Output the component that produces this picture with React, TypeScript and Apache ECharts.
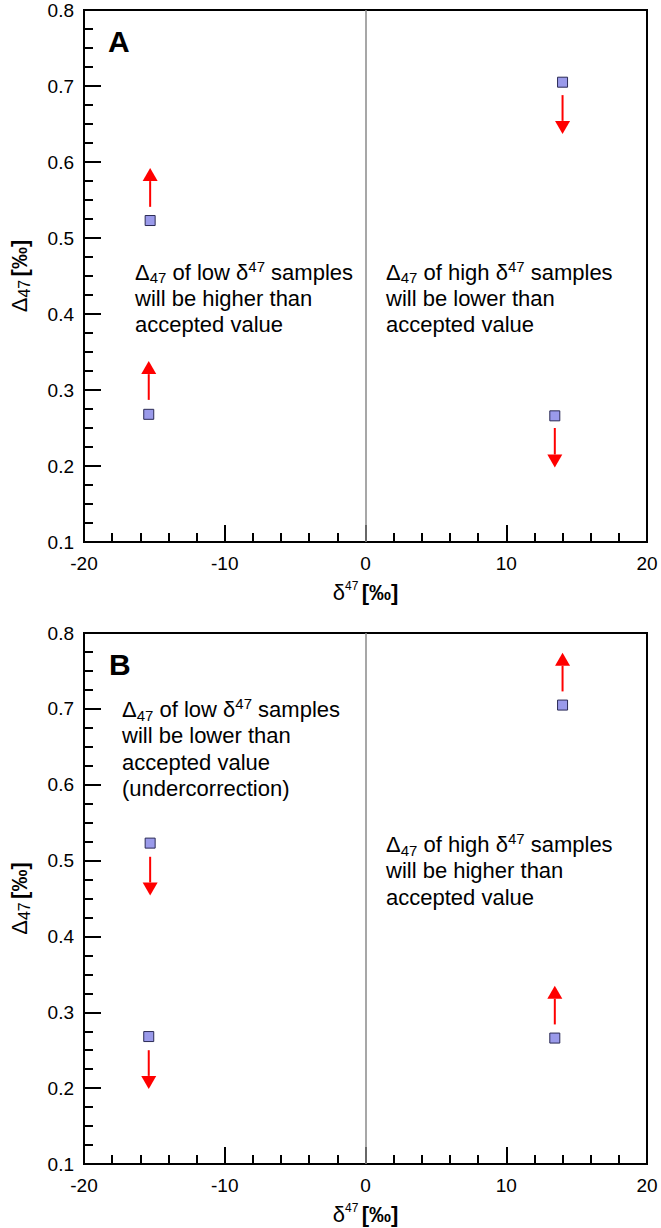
import React, { useEffect, useRef } from "react";
import * as echarts from "echarts";

// ---- data ----
const sampleX = [-15.3, -15.4, 14.0, 13.45];
const sampleY = [0.523, 0.268, 0.705, 0.266];
// arrow start / tip values (Δ47) for panel A and panel B
const arrowStartA = [0.541, 0.287, 0.688, 0.25];
const arrowTipA = [0.592, 0.338, 0.637, 0.198];
const arrowStartB = [0.505, 0.25, 0.723, 0.284];
const arrowTipB = [0.454, 0.199, 0.774, 0.335];
const zeroLineX = [0];

const FONT = "'Liberation Sans', Arial, sans-serif";

const labelA = "A";
const labelB = "B";
const textALeft = [
  "{n|Δ}{sub|47}{n| of low }{n|δ}{sup|47}{n| samples}",
  "{n|will be higher than}",
  "{n|accepted value}",
];
const textARight = [
  "{n|Δ}{sub|47}{n| of high }{n|δ}{sup|47}{n| samples}",
  "{n|will be lower than}",
  "{n|accepted value}",
];
const textBLeft = [
  "{n|Δ}{sub|47}{n| of low }{n|δ}{sup|47}{n| samples}",
  "{n|will be lower than}",
  "{n|accepted value}",
  "{n|(undercorrection)}",
];
const textBRight = [
  "{n|Δ}{sub|47}{n| of high }{n|δ}{sup|47}{n| samples}",
  "{n|will be higher than}",
  "{n|accepted value}",
];

function makeRich(lh: number) {
  return {
    n: { fontSize: 22, lineHeight: lh, fontFamily: FONT, fill: "#000" },
    sub: { fontSize: 15, lineHeight: 14, verticalAlign: "bottom", fontFamily: FONT, fill: "#000" },
    sup: { fontSize: 15, lineHeight: 14, verticalAlign: "top", fontFamily: FONT, fill: "#000" },
  };
}

function annot(lines: string[], x: number, y: number, lh: number) {
  return {
    type: "text",
    left: x,
    top: y,
    style: {
      text: lines.join("\n"),
      rich: makeRich(lh),
      fill: "#000",
      font: `22px ${FONT}`,
    },
    silent: true,
  };
}

const GRID_TOP = [10, 633];
const GRID_H = [532, 531];

export default function App() {
  const ref = useRef<HTMLDivElement>(null);
  useEffect(() => {
    if (!ref.current) return;
    const chart = echarts.init(ref.current, undefined, { renderer: "svg" });

    const xAxisBase = (gi: number) => ({
      gridIndex: gi,
      type: "value",
      min: -20,
      max: 20,
      interval: 10,
      axisLine: { show: true, onZero: false, lineStyle: { color: "#000", width: 2 } },
      axisTick: { show: true, inside: true, length: 17, lineStyle: { color: "#000", width: 2 } },
      minorTick: { show: true, splitNumber: 5, length: 9, lineStyle: { color: "#000", width: 2 } },
      splitLine: { show: false },
      axisLabel: { fontSize: 19, color: "#000", margin: 12, fontFamily: FONT },
      name: "{d|δ}{s|47} {b|[‰]}",
      nameLocation: "middle",
      nameGap: 38,
      nameTextStyle: {
        rich: {
          d: { fontSize: 22, fontFamily: FONT, color: "#000", lineHeight: 24 },
          s: { fontSize: 12, fontFamily: FONT, color: "#000", lineHeight: 14, verticalAlign: "top" },
          b: { fontSize: 22, fontWeight: "bold", fontFamily: "'Liberation Sans Narrow', " + FONT, color: "#000", lineHeight: 24 },
        },
      },
    });
    const yAxisBase = (gi: number) => ({
      gridIndex: gi,
      type: "value",
      min: 0.1,
      max: 0.8,
      interval: 0.1,
      axisLine: { show: true, onZero: false, lineStyle: { color: "#000", width: 2 } },
      axisTick: { show: true, inside: true, length: 17, lineStyle: { color: "#000", width: 2 } },
      minorTick: { show: true, splitNumber: 4, length: 9, lineStyle: { color: "#000", width: 2 } },
      splitLine: { show: false },
      axisLabel: {
        fontSize: 19,
        color: "#000",
        margin: 10,
        fontFamily: FONT,
        formatter: (v: number) => v.toFixed(1),
      },
      name: "{d|Δ}{s|47} {b|[‰]}",
      nameLocation: "middle",
      nameGap: 52,
      nameTextStyle: {
        rich: {
          d: { fontSize: 22, fontFamily: FONT, color: "#000", lineHeight: 26 },
          s: { fontSize: 16, fontFamily: FONT, color: "#000", lineHeight: 14, verticalAlign: "bottom" },
          b: { fontSize: 22, fontWeight: "bold", fontFamily: "'Liberation Sans Narrow', " + FONT, color: "#000", lineHeight: 26 },
        },
      },
    });

    const arrowSeries = (gi: number, starts: number[], tips: number[]) => ({
      type: "custom",
      xAxisIndex: gi,
      yAxisIndex: gi,
      silent: true,
      encode: { x: 0, y: [1, 2] },
      data: sampleX.map((x, i) => [x, starts[i], tips[i]]),
      renderItem: (params: any, api: any) => {
        const x = api.value(0);
        const p1 = api.coord([x, api.value(1)]);
        const p2 = api.coord([x, api.value(2)]);
        const dir = p2[1] > p1[1] ? 1 : -1;
        const headH = 13;
        const headW = 7.5;
        return {
          type: "group",
          children: [
            {
              type: "line",
              shape: { x1: p1[0], y1: p1[1], x2: p2[0], y2: p2[1] - dir * headH },
              style: { stroke: "#ff0000", lineWidth: 2 },
            },
            {
              type: "polygon",
              shape: {
                points: [
                  [p2[0], p2[1]],
                  [p2[0] - headW, p2[1] - dir * headH],
                  [p2[0] + headW, p2[1] - dir * headH],
                ],
              },
              style: { fill: "#ff0000" },
            },
          ],
        };
      },
    });

    const scatterSeries = (gi: number) => ({
      type: "scatter",
      xAxisIndex: gi,
      yAxisIndex: gi,
      symbol: "rect",
      symbolSize: 10,
      itemStyle: { color: "#9a9aea", borderColor: "#2a2a55", borderWidth: 1, opacity: 1 },
      data: sampleX.map((x, i) => [x, sampleY[i]]),
      z: 5,
      markLine: {
        silent: true,
        symbol: ["none", "none"],
        label: { show: false },
        lineStyle: { color: "#8a8a8a", width: 1.5, type: "solid" },
        data: zeroLineX.map((v) => ({ xAxis: v })),
      },
    });

    const option: any = {
      animation: false,
      backgroundColor: "#fff",
      grid: GRID_TOP.map((t, i) => ({
        left: 77,
        top: t,
        width: 570,
        height: GRID_H[i],
        show: true,
        borderColor: "#000",
        borderWidth: 2,
        backgroundColor: "transparent",
      })),
      xAxis: [xAxisBase(0), xAxisBase(1)],
      yAxis: [yAxisBase(0), yAxisBase(1)],
      series: [
        scatterSeries(0),
        scatterSeries(1),
        arrowSeries(0, arrowStartA, arrowTipA),
        arrowSeries(1, arrowStartB, arrowTipB),
      ],
      graphic: [
        {
          type: "text",
          left: 108,
          top: 26,
          style: { text: labelA, font: `bold 30px ${FONT}`, fill: "#000" },
        },
        {
          type: "text",
          left: 109,
          top: 649,
          style: { text: labelB, font: `bold 30px ${FONT}`, fill: "#000" },
        },
        annot(textALeft, 135, 259, 26),
        annot(textARight, 386, 259, 26),
        annot(textBLeft, 122, 696, 26.5),
        annot(textBRight, 386, 831, 26.5),
      ],
    };
    chart.setOption(option);
    return () => chart.dispose();
  }, []);

  return (
    <div
      ref={ref}
      style={{ position: "absolute", left: 0, top: 0, width: 661, height: 1228, background: "#fff" }}
    />
  );
}
